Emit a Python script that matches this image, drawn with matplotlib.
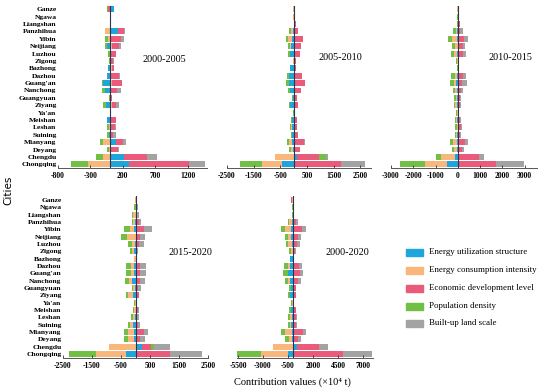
import matplotlib
matplotlib.use("Agg")
import matplotlib.pyplot as plt
import numpy as np

# Cities from top to bottom
cities = ["Ganze", "Ngawa", "Liangshan", "Panzhihua", "Yibin", "Neijiang", "Luzhou",
          "Zigong", "Bazhong", "Dazhou", "Guang'an", "Nanchong", "Guangyuan", "Ziyang",
          "Ya'an", "Meishan", "Leshan", "Suining", "Mianyang", "Deyang", "Chengdu", "Chongqing"]

factors = ["Energy utilization structure", "Energy consumption intensity",
           "Economic development level", "Population density", "Built-up land scale"]
colors = ["#1ea5dc", "#f9b77c", "#ea5a7b", "#71bf44", "#a3a3a3"]

# 2000-2005
p1_struct = [65, 0, 0, 128, 15, -45, 10, 0, -30, -50, -110, -80, 0, -65, 0, -50, 0, -10, 100, 20, 215, 292]
p1_inten = [0, 0, 0, -77, -35, 40, 0, 0, 30, 0, 40, 0, 0, 35, 0, 0, -15, 0, -105, -20, -103, -343]
p1_econ = [-25, 5, 5, 92, 150, 100, 90, 50, 35, 140, 150, 110, 35, 55, 10, 90, 80, 50, 100, 100, 364, 928]
p1_pop = [-20, 0, 0, 0, -40, -35, -25, -20, 0, 0, -10, -40, -15, -40, 0, 0, -25, -30, -40, -30, -117, -262]
p1_land = [0, 5, 5, 10, 50, 40, 0, 10, 0, 15, 0, 70, 0, 45, 10, 0, 15, 40, 50, 15, 154, 242]

# 2005-2010
p2_struct = [0, 0, 0, -40, -75, -100, -135, 0, -135, -175, -190, -135, -20, -135, 0, -60, -50, -75, -60, -40, 140, -426]
p2_inten = [-20, -15, 0, -70, -125, -50, 0, -30, 0, 0, 0, 0, 0, 50, 0, 0, -40, 0, -100, -75, -715, -752]
p2_econ = [15, 15, 100, 170, 340, 290, 240, 100, 90, 300, 410, 260, 120, 110, 40, 140, 140, 160, 390, 240, 825, 1792]
p2_pop = [-15, -10, 0, -70, -90, -60, -60, 0, 0, -75, -100, -75, -30, -40, -30, -40, -50, -40, -100, -50, 263, -840]
p2_land = [0, 0, 0, 0, 0, 0, 0, 0, 0, 0, 0, 0, 0, 0, 0, 0, 0, 0, 20, 0, 60, 878]

# 2010-2015
p3_struct = [0, 0, 0, -30, -60, 70, -40, 0, 0, -30, -90, -45, -45, -45, 0, -30, 45, -30, -45, -45, -135, -508]
p3_inten = [-20, 0, 0, -75, -190, -150, -135, -20, 0, -120, -90, -75, -60, -75, -45, -45, -60, -60, -195, -120, -642, -987]
p3_econ = [50, 30, 100, 90, 270, 180, 210, 60, 50, 220, 195, 150, 90, 105, 45, 90, 90, 90, 315, 165, 942, 1689]
p3_pop = [-40, -40, -40, -100, -200, -135, -135, -50, -50, -160, -165, -105, -60, -60, -45, -60, -60, -60, -135, -90, -195, -1121]
p3_land = [0, 0, 0, 120, 200, 90, 135, 0, 20, 150, 195, 90, 60, 45, 0, 30, 45, 45, 120, 105, 224, 1271]

# 2015-2020
p4_struct = [0, 0, 0, -25, -35, 0, -25, -55, 0, -45, -45, -115, -25, -90, 0, 0, -20, -70, -45, -45, 226, -339]
p4_inten = [-20, 0, -80, -55, -160, -305, -90, -80, -40, -125, -100, -100, -45, -160, -20, -55, -80, -110, -225, -200, -904, -1039]
p4_econ = [30, 40, 35, 110, 295, 150, 135, 60, 35, 150, 160, 170, 90, 110, 40, 70, 45, 90, 295, 170, 294, 1198]
p4_pop = [0, -45, -55, -55, -200, -190, -135, -55, 0, -170, -190, -150, -45, -90, -25, -45, -55, -70, -110, -135, 113, -927]
p4_land = [0, 30, 80, 70, 270, 170, 160, 30, 0, 200, 215, 150, 90, 10, 20, 45, 70, 70, 135, 170, 565, 1096]

# 2000-2020
p5_struct = [0, 0, 0, -135, -240, -205, -135, 0, -300, -310, -545, -340, -240, -275, 0, -240, -100, -170, -135, -135, 375, -512]
p5_inten = [-100, 0, 0, -240, -580, -310, -340, -200, 0, -240, 0, -205, 0, 100, -60, 0, -205, -140, -685, -310, -2015, -2698]
p5_econ = [-100, 80, 100, 340, 890, 510, 410, 205, 100, 615, 685, 510, 275, 170, 100, 275, 310, 310, 1025, 510, 2220, 4986]
p5_pop = [120, -80, -60, -170, -376, -240, -275, -170, 0, -375, -410, -275, -170, -275, -100, -170, -205, -170, -340, -310, 0, -2596]
p5_land = [0, 0, 0, 205, 410, 240, 275, 50, 0, 275, 340, 240, 40, 40, 0, 70, 70, 100, 310, 240, 920, 2869]

periods = ["2000-2005", "2005-2010", "2010-2015", "2015-2020", "2000-2020"]
ticks = [[-800, -300, 200, 700, 1200],
         [-2500, -1500, -500, 500, 1500, 2500],
         [-3000, -2000, -1000, 0, 1000, 2000, 3000],
         [-2500, -1500, -500, 500, 1500, 2500],
         [-5500, -3000, -500, 2000, 4500, 7000]]
xlims = [(-800, 1500), (-2500, 2900), (-3000, 3550), (-2500, 2500), (-5600, 8000)]

data = [[p1_struct, p1_inten, p1_econ, p1_pop, p1_land],
        [p2_struct, p2_inten, p2_econ, p2_pop, p2_land],
        [p3_struct, p3_inten, p3_econ, p3_pop, p3_land],
        [p4_struct, p4_inten, p4_econ, p4_pop, p4_land],
        [p5_struct, p5_inten, p5_econ, p5_pop, p5_land]]

W, H = 550, 392
# axes boxes in pixels: left, right, top, bottom
boxes = [(58, 207, 5.6, 168), (227, 371, 5.6, 168), (391, 537, 5.6, 168),
         (63, 208, 196.3, 357.7), (237, 373, 196.3, 357.7)]
title_pos = [(164, 60), (340, 58), (510, 58), (190, 252), (347, 252)]

plt.rcParams['font.family'] = ['Liberation Serif', 'DejaVu Serif']
fig = plt.figure(figsize=(5.5, 3.92), dpi=100)

y = np.arange(len(cities))[::-1]
for k in range(5):
    l, r, t, b = boxes[k]
    ax = fig.add_axes([l / W, 1 - b / H, (r - l) / W, (b - t) / H])
    pos = np.zeros(len(cities))
    neg = np.zeros(len(cities))
    # diverging stack: positives to the right, negatives to the left, same order
    for vals, c in zip(data[k], colors):
        v = np.array(vals, dtype=float)
        left = np.where(v >= 0, pos, neg)
        ax.barh(y, v, left=left, height=0.8, color=c, linewidth=0)
        pos = pos + np.where(v >= 0, v, 0)
        neg = neg + np.where(v < 0, v, 0)
    ax.axvline(0, color="#2b3550", lw=0.8, zorder=3)
    ax.set_xlim(*xlims[k])
    ax.set_ylim(-0.5, len(cities) - 0.5)
    ax.set_xticks(ticks[k])
    ax.set_xticklabels([str(t) for t in ticks[k]], fontsize=5.5, fontweight="bold")
    ax.tick_params(axis="x", direction="in", length=2, width=0.6, pad=3, colors="#333333")
    ax.tick_params(axis="x", labelcolor="black")
    for s in ["top", "right", "left"]:
        ax.spines[s].set_visible(False)
    ax.spines["bottom"].set_linewidth(0.7)
    ax.spines["bottom"].set_color("#555555")
    if k in (0, 3):
        ax.set_yticks(y)
        ax.set_yticklabels(cities, fontsize=5.4, fontweight="bold")
        ax.tick_params(axis="y", length=0, pad=1)
    else:
        ax.set_yticks([])
    tx, ty = title_pos[k]
    fig.text(tx / W, 1 - ty / H, periods[k], fontsize=7.3, ha="center", va="center")

# legend
for i, (name, c) in enumerate(zip(factors, colors)):
    yy = [252, 270, 288, 306, 323][i]
    fig.patches.append(plt.Rectangle((406 / W, 1 - (yy + 3.5) / H), 17 / W, 7 / H,
                                     transform=fig.transFigure, color=c))
    fig.text(429 / W, 1 - yy / H, name, fontsize=6.4, ha="left", va="center")

fig.text(292 / W, 1 - 382 / H, "Contribution values (×10⁴ t)", fontsize=7.5,
         ha="center", va="center")
fig.text(8 / W, 1 - 190 / H, "Cities", fontsize=7.5, rotation=90, ha="center",
         va="center", family="DejaVu Sans")

fig.savefig("out.png", dpi=100)
